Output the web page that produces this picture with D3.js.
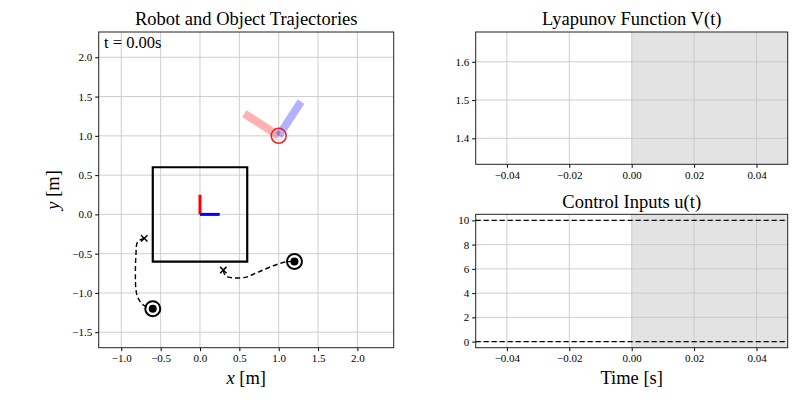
<!DOCTYPE html>
<html>
<head>
<meta charset="utf-8">
<script src="https://cdn.jsdelivr.net/npm/d3@7"></script>
<style>
  body { margin: 0; background: #fff; }
  svg text { font-family: "Liberation Serif", "DejaVu Serif", serif; fill: #000; }
  .grid line { stroke: #c8c8c8; stroke-width: 0.9; }
</style>
</head>
<body>
<svg width="800" height="400"></svg>
<script>
// ---- data ----
var trajXTicks = [-1.0, -0.5, 0.0, 0.5, 1.0, 1.5, 2.0];
var trajYTicks = [-1.5, -1.0, -0.5, 0.0, 0.5, 1.0, 1.5, 2.0];
var boxCorners = [[-0.6, -0.6], [0.6, -0.6], [0.6, 0.6], [-0.6, 0.6]];
var worldFrame = [0, 0, 0.25];           // origin x, y, arm length
var robotPose = [1.0, 1.0, 57];          // x, y, heading (deg)
var robotArm = 0.52;
var objectTargets = [[-0.6, -1.2], [1.2, -0.6]];
var objectStarts = [[-0.708, -0.305], [0.296, -0.709]];
var objectPaths = [
    [[-0.708, -0.305], [-0.792, -0.349], [-0.813, -0.496], [-0.813, -0.963], [-0.784, -1.069], [-0.720, -1.154], [-0.600, -1.200]],
    [[0.296, -0.709], [0.318, -0.773], [0.381, -0.802], [0.572, -0.802], [0.720, -0.743], [0.931, -0.654], [1.100, -0.603], [1.200, -0.600]]
];
var timeTicks = [-0.04, -0.02, 0.00, 0.02, 0.04];
var lyapTicks = [1.4, 1.5, 1.6];
var controlTicks = [0, 2, 4, 6, 8, 10];
var controlBounds = [0, 10];
var currentTime = 0.00;

var svg = d3.select("svg");
var titleSize = "18.5px";

function fmtMinus(f) {
    return function (d) { return f(d).replace("-", "\u2212"); };
}

// 通用的坐标轴+网格绘制
function panel(box, xs, ys, xt, yt, xf, yf) {
    var g = svg.append("g");
    g.append("rect").attr("x", box.l).attr("y", box.t)
        .attr("width", box.r - box.l).attr("height", box.b - box.t).attr("fill", "#fff");
    var body = g.append("g");
    var grid = g.append("g").attr("class", "grid");
    grid.selectAll("line.gx").data(xt).enter().append("line")
        .attr("x1", xs).attr("x2", xs).attr("y1", box.t).attr("y2", box.b);
    grid.selectAll("line.gy").data(yt).enter().append("line")
        .attr("y1", ys).attr("y2", ys).attr("x1", box.l).attr("x2", box.r);
    g.append("g").attr("transform", "translate(0," + box.b + ")")
        .call(d3.axisBottom(xs).tickValues(xt).tickFormat(fmtMinus(xf)).tickSize(3.5).tickPadding(3))
        .call(function (a) { a.select(".domain").remove(); });
    g.append("g").attr("transform", "translate(" + box.l + ",0)")
        .call(d3.axisLeft(ys).tickValues(yt).tickFormat(fmtMinus(yf)).tickSize(3.5).tickPadding(3))
        .call(function (a) { a.select(".domain").remove(); });
    var top = g.append("g");
    top.append("rect").attr("x", box.l).attr("y", box.t)
        .attr("width", box.r - box.l).attr("height", box.b - box.t)
        .attr("fill", "none").attr("stroke", "#222").attr("stroke-width", 1);
    g.selectAll(".tick text").style("font-size", "11px").style("font-family", "Liberation Serif, serif");
    return { body: body, grid: grid, top: top };
}

// ---- 左图：轨迹 ----
var L = { l: 98.7, r: 393.7, t: 32, b: 347.7 };
var x = d3.scaleLinear().domain([-1.287, 2.461]).range([L.l, L.r]);
var y = d3.scaleLinear().domain([-1.697, 2.322]).range([L.b, L.t]);
var p1 = panel(L, x, y, trajXTicks, trajYTicks, d3.format(".1f"), d3.format(".1f"));
var layer = p1.top.insert("g", ":first-child");

// box
layer.append("polygon")
    .attr("points", boxCorners.map(function (c) { return x(c[0]) + "," + y(c[1]); }).join(" "))
    .attr("fill", "none").attr("stroke", "#000").attr("stroke-width", 2.2);

// world frame
layer.append("line").attr("x1", x(worldFrame[0])).attr("y1", y(worldFrame[1]))
    .attr("x2", x(worldFrame[0])).attr("y2", y(worldFrame[1] + worldFrame[2]))
    .attr("stroke", "#ff0000").attr("stroke-width", 3);
layer.append("line").attr("x1", x(worldFrame[0])).attr("y1", y(worldFrame[1]))
    .attr("x2", x(worldFrame[0] + worldFrame[2])).attr("y2", y(worldFrame[1]))
    .attr("stroke", "#0000ff").attr("stroke-width", 3);

// trajectories
var line = d3.line().x(function (d) { return x(d[0]); }).y(function (d) { return y(d[1]); })
    .curve(d3.curveCatmullRom);
layer.selectAll("path.traj").data(objectPaths).enter().append("path")
    .attr("d", line).attr("fill", "none").attr("stroke", "#000")
    .attr("stroke-width", 1.4).attr("stroke-dasharray", "5,3");

// start markers
objectStarts.forEach(function (s) {
    var cx = x(s[0]), cy = y(s[1]), h = 3.2;
    layer.append("path")
        .attr("d", "M" + (cx - h) + "," + (cy - h) + "L" + (cx + h) + "," + (cy + h) +
            "M" + (cx - h) + "," + (cy + h) + "L" + (cx + h) + "," + (cy - h))
        .attr("stroke", "#000").attr("stroke-width", 1.5);
});

// targets
layer.selectAll("circle.tgo").data(objectTargets).enter().append("circle")
    .attr("cx", function (d) { return x(d[0]); }).attr("cy", function (d) { return y(d[1]); })
    .attr("r", 7.5).attr("fill", "none").attr("stroke", "#000").attr("stroke-width", 2);
layer.selectAll("circle.tgi").data(objectTargets).enter().append("circle")
    .attr("cx", function (d) { return x(d[0]); }).attr("cy", function (d) { return y(d[1]); })
    .attr("r", 4).attr("fill", "#000");

// robot
var th = robotPose[2] * Math.PI / 180;
layer.append("line").attr("x1", x(robotPose[0])).attr("y1", y(robotPose[1]))
    .attr("x2", x(robotPose[0] + robotArm * Math.cos(th + Math.PI / 2)))
    .attr("y2", y(robotPose[1] + robotArm * Math.sin(th + Math.PI / 2)))
    .attr("stroke", "#ff0000").attr("stroke-opacity", 0.3).attr("stroke-width", 8);
layer.append("line").attr("x1", x(robotPose[0])).attr("y1", y(robotPose[1]))
    .attr("x2", x(robotPose[0] + robotArm * Math.cos(th)))
    .attr("y2", y(robotPose[1] + robotArm * Math.sin(th)))
    .attr("stroke", "#0000ff").attr("stroke-opacity", 0.3).attr("stroke-width", 8);
layer.append("circle").attr("cx", x(robotPose[0])).attr("cy", y(robotPose[1]))
    .attr("r", 7.5).attr("fill", "none").attr("stroke", "#ee2222").attr("stroke-width", 1.5);

svg.append("text").attr("x", 104).attr("y", 48).style("font-size", "16.5px")
    .text("t = " + currentTime.toFixed(2) + "s");
svg.append("text").attr("x", (L.l + L.r) / 2).attr("y", 25).attr("text-anchor", "middle")
    .style("font-size", titleSize).text("Robot and Object Trajectories");
var xl = svg.append("text").attr("x", (L.l + L.r) / 2).attr("y", 384).attr("text-anchor", "middle")
    .style("font-size", titleSize);
xl.append("tspan").style("font-style", "italic").text("x");
xl.append("tspan").text(" [m]");
var yl = svg.append("text").attr("transform", "translate(59," + ((L.t + L.b) / 2) + ") rotate(-90)")
    .attr("text-anchor", "middle").style("font-size", titleSize);
yl.append("tspan").style("font-style", "italic").text("y");
yl.append("tspan").text(" [m]");

// ---- 右上：Lyapunov ----
var R1 = { l: 475.7, r: 787.7, t: 32, b: 164.3 };
var tx1 = d3.scaleLinear().domain([-0.05, 0.05]).range([R1.l, R1.r]);
var vy = d3.scaleLinear().domain([1.332, 1.678]).range([R1.b, R1.t]);
var p2 = panel(R1, tx1, vy, timeTicks, lyapTicks, d3.format(".2f"), d3.format(".1f"));
p2.body.append("rect").attr("x", tx1(currentTime)).attr("y", R1.t)
    .attr("width", tx1(0.05) - tx1(currentTime)).attr("height", R1.b - R1.t).attr("fill", "#e3e3e3");
svg.append("text").attr("x", (R1.l + R1.r) / 2).attr("y", 25).attr("text-anchor", "middle")
    .style("font-size", titleSize).text("Lyapunov Function V(t)");

// ---- 右下：control inputs ----
var R2 = { l: 475.7, r: 787.7, t: 214.3, b: 347.7 };
var tx2 = d3.scaleLinear().domain([-0.05, 0.05]).range([R2.l, R2.r]);
var uy = d3.scaleLinear().domain([-0.5, 10.5]).range([R2.b, R2.t]);
var p3 = panel(R2, tx2, uy, timeTicks, controlTicks, d3.format(".2f"), d3.format("d"));
p3.body.append("rect").attr("x", tx2(currentTime)).attr("y", R2.t)
    .attr("width", tx2(0.05) - tx2(currentTime)).attr("height", R2.b - R2.t).attr("fill", "#e3e3e3");
p3.top.insert("g", ":first-child").selectAll("line").data(controlBounds).enter().append("line")
    .attr("x1", R2.l).attr("x2", R2.r).attr("y1", uy).attr("y2", uy)
    .attr("stroke", "#000").attr("stroke-width", 1.4).attr("stroke-dasharray", "5,3");
svg.append("text").attr("x", (R2.l + R2.r) / 2).attr("y", 208).attr("text-anchor", "middle")
    .style("font-size", titleSize).text("Control Inputs u(t)");
svg.append("text").attr("x", (R2.l + R2.r) / 2).attr("y", 384).attr("text-anchor", "middle")
    .style("font-size", titleSize).text("Time [s]");
</script>
</body>
</html>
